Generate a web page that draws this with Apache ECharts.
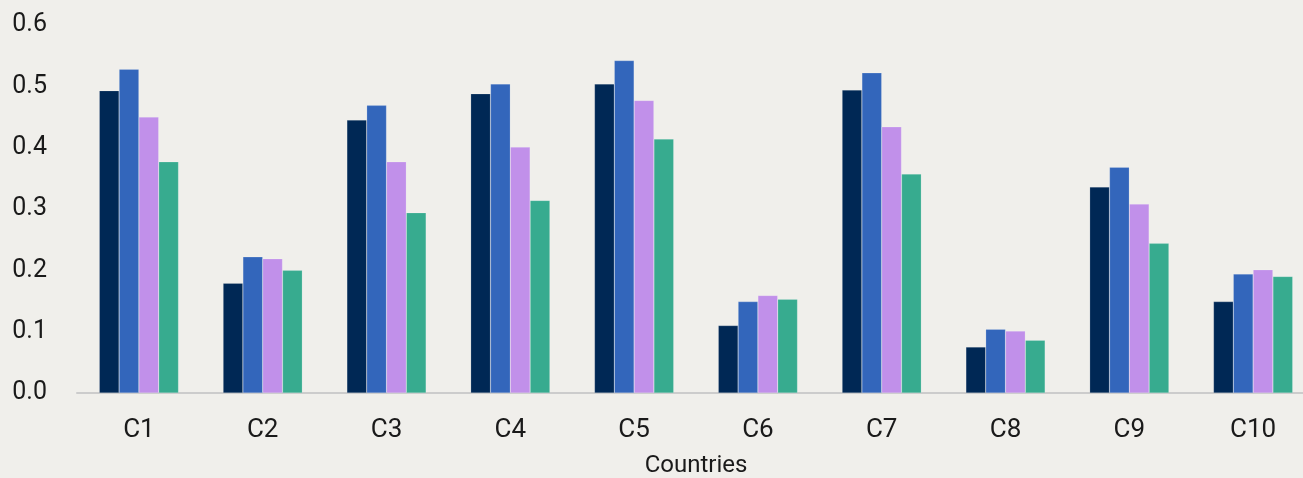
<!DOCTYPE html>
<html>
<head>
<meta charset="utf-8">
<script src="https://cdn.jsdelivr.net/npm/echarts@6/dist/echarts.min.js"></script>
<style>
html,body{margin:0;padding:0;background:#f0efeb;}
#chart{width:1303px;height:478px;}
</style>
</head>
<body>
<div id="chart"></div>
<script>
var categories = ['C1','C2','C3','C4','C5','C6','C7','C8','C9','C10'];
var seriesA = [0.493,0.179,0.445,0.488,0.504,0.110,0.494,0.075,0.336,0.149];
var seriesB = [0.528,0.222,0.469,0.504,0.542,0.149,0.522,0.104,0.368,0.194];
var seriesC = [0.450,0.219,0.377,0.401,0.477,0.159,0.434,0.101,0.308,0.201];
var seriesD = [0.377,0.200,0.294,0.314,0.414,0.153,0.357,0.086,0.244,0.190];
var yTicks = [0, 0.6, 0.1];
var colors = ['#002855','#3366bb','#c190ea','#37ab8f'];

var chart = echarts.init(document.getElementById('chart'));
function mk(data, i){
  return {
    type:'bar', data:data, barGap:'0%', barCategoryGap:'36%',
    itemStyle:{color:colors[i], borderColor:'rgba(255,255,255,0.35)', borderWidth:0.5},
    emphasis:{disabled:true}
  };
}
chart.setOption({
  backgroundColor:'#f0efeb',
  animation:false,
  textStyle:{fontFamily:'Roboto'},
  grid:{left:77, width:1238, top:25, bottom:85, containLabel:false, outerBoundsMode:'none'},
  xAxis:{
    type:'category', data:categories,
    name:'Countries', nameLocation:'middle', nameGap:61,
    nameTextStyle:{fontSize:24, color:'#1a1a1a', fontFamily:'Roboto'},
    axisLine:{lineStyle:{color:'#cccccc', width:2}},
    axisTick:{show:false},
    axisLabel:{fontSize:26, color:'#1a1a1a', margin:24, fontFamily:'Roboto'}
  },
  yAxis:{
    type:'value', min:yTicks[0], max:yTicks[1], interval:yTicks[2],
    splitLine:{show:false}, axisLine:{show:false}, axisTick:{show:false},
    axisLabel:{fontSize:25, color:'#1a1a1a', margin:30, fontFamily:'Roboto',
      formatter:function(v){return v.toFixed(1);}}
  },
  series:[mk(seriesA,0),mk(seriesB,1),mk(seriesC,2),mk(seriesD,3)]
});
</script>
</body>
</html>
